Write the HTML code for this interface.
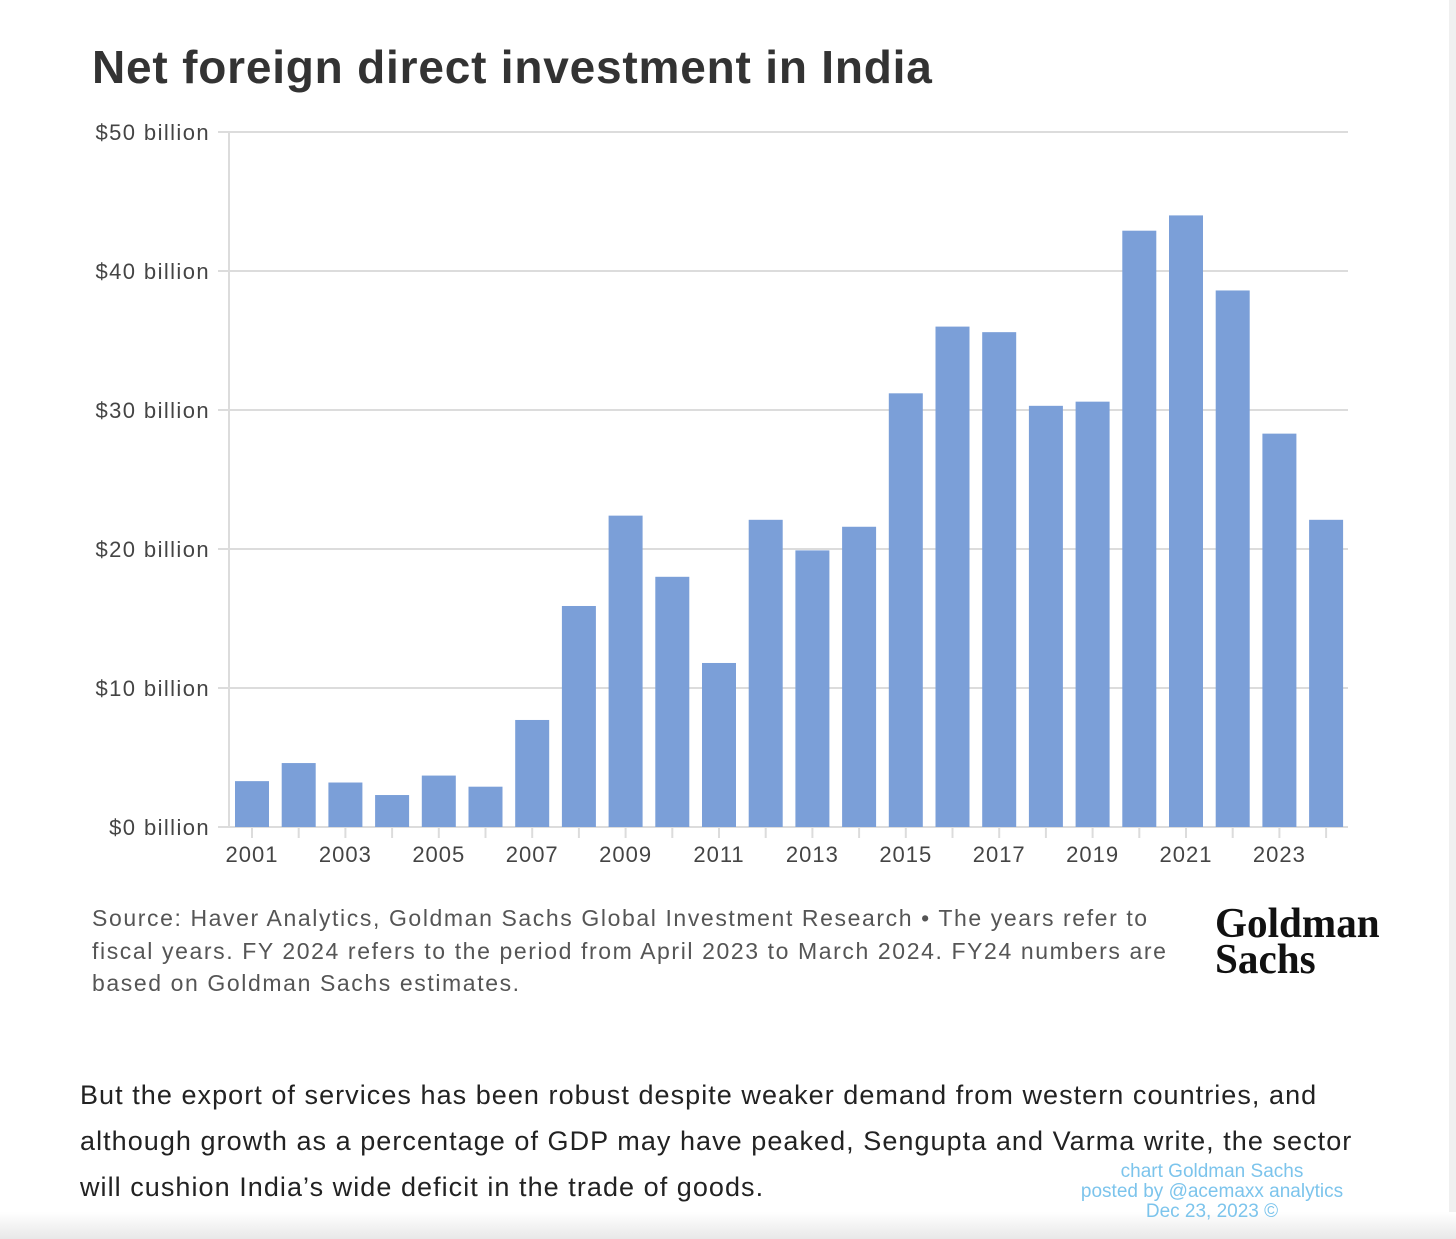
<!DOCTYPE html>
<html><head><meta charset="utf-8"><style>
body{margin:0;width:1456px;height:1239px;background:#fff;position:relative;overflow:hidden;font-family:"Liberation Sans",sans-serif}
.abs{position:absolute;white-space:nowrap}
</style></head><body>
<div class="abs" style="left:1449px;top:0;width:7px;height:1239px;background:#f0f0f0"></div>
<div class="abs" style="left:0;top:1212px;width:1456px;height:27px;background:linear-gradient(#fff,#e8e8e8)"></div>
<div class="abs" style="left:92px;top:40px;font-size:46px;font-weight:bold;color:#333;letter-spacing:0.8px">Net foreign direct investment in India</div>
<svg class="abs" style="left:0;top:0" width="1456" height="900" id="chart"></svg>
<div class="abs" style="left:92px;top:902px;font-size:23px;line-height:32.5px;color:#555;letter-spacing:1.6px">Source: Haver Analytics, Goldman Sachs Global Investment Research • The years refer to<br>fiscal years. FY 2024 refers to the period from April 2023 to March 2024. FY24 numbers are<br>based on Goldman Sachs estimates.</div>
<div class="abs" style="left:1215px;top:906px;font-family:'Liberation Serif',serif;font-weight:bold;font-size:42px;line-height:36px;color:#111;transform:scaleX(0.98);transform-origin:left">Goldman<br>Sachs</div>
<div class="abs" style="left:80px;top:1072px;font-size:27px;line-height:46px;color:#222;letter-spacing:1.05px">But the export of services has been robust despite weaker demand from western countries, and<br>although growth as a percentage of GDP may have peaked, Sengupta and Varma write, the sector<br>will cushion India’s wide deficit in the trade of goods.</div>
<div class="abs" style="left:1062px;top:1162px;width:300px;text-align:center;font-size:19px;line-height:20px;color:#7cc4ec">chart Goldman Sachs<br>posted by @acemaxx analytics<br>Dec 23, 2023 ©</div>
<script>
const years=[2001,2002,2003,2004,2005,2006,2007,2008,2009,2010,2011,2012,2013,2014,2015,2016,2017,2018,2019,2020,2021,2022,2023,2024];
const values=[3.3,4.6,3.2,2.3,3.7,2.9,7.7,15.9,22.4,18.0,11.8,22.1,19.9,21.6,31.2,36.0,35.6,30.3,30.6,42.9,44.0,38.6,28.3,22.1];
const yTicks=[0,10,20,30,40,50];
const NS='http://www.w3.org/2000/svg';
const svg=document.getElementById('chart');
const y0=827,pxPer=13.9,x0=229,x1=1348,step=46.7,bw=34,firstX=235;
const yScale=v=>y0-v*pxPer;
const xScale=i=>firstX+i*step;
function mk(t,a){const e=document.createElementNS(NS,t);for(const k in a)e.setAttribute(k,a[k]);svg.appendChild(e);return e;}
yTicks.forEach(v=>{
  const g=mk('line',{x1:218,x2:x1,y1:yScale(v),y2:yScale(v),stroke:'#dcdcdc','stroke-width':2});
  
  
  const t=mk('text',{x:210,y:yScale(v)+8,'text-anchor':'end','font-size':22,'letter-spacing':1.4,fill:'#444','font-family':'Liberation Sans, sans-serif'});
  t.textContent='$'+v+' billion';
  
  
});
const ax=mk('line',{x1:x0,x2:x0,y1:132,y2:y0,stroke:'#dcdcdc','stroke-width':2});


years.forEach((yr,i)=>{
  const x=xScale(i);
  const r=mk('rect',{x:x,y:yScale(values[i]),width:bw,height:values[i]*pxPer,fill:'#7b9fd8'});
  
  
  const tk=mk('line',{x1:x+bw/2,x2:x+bw/2,y1:y0,y2:y0+11,stroke:'#dcdcdc','stroke-width':2});
  
  
  if(yr%2===1){
    const t=mk('text',{x:x+bw/2,y:862,'text-anchor':'middle','font-size':22,'letter-spacing':1,fill:'#444','font-family':'Liberation Sans, sans-serif'});
    t.textContent=yr;
    
    
  }
});
</script>
</body></html>
